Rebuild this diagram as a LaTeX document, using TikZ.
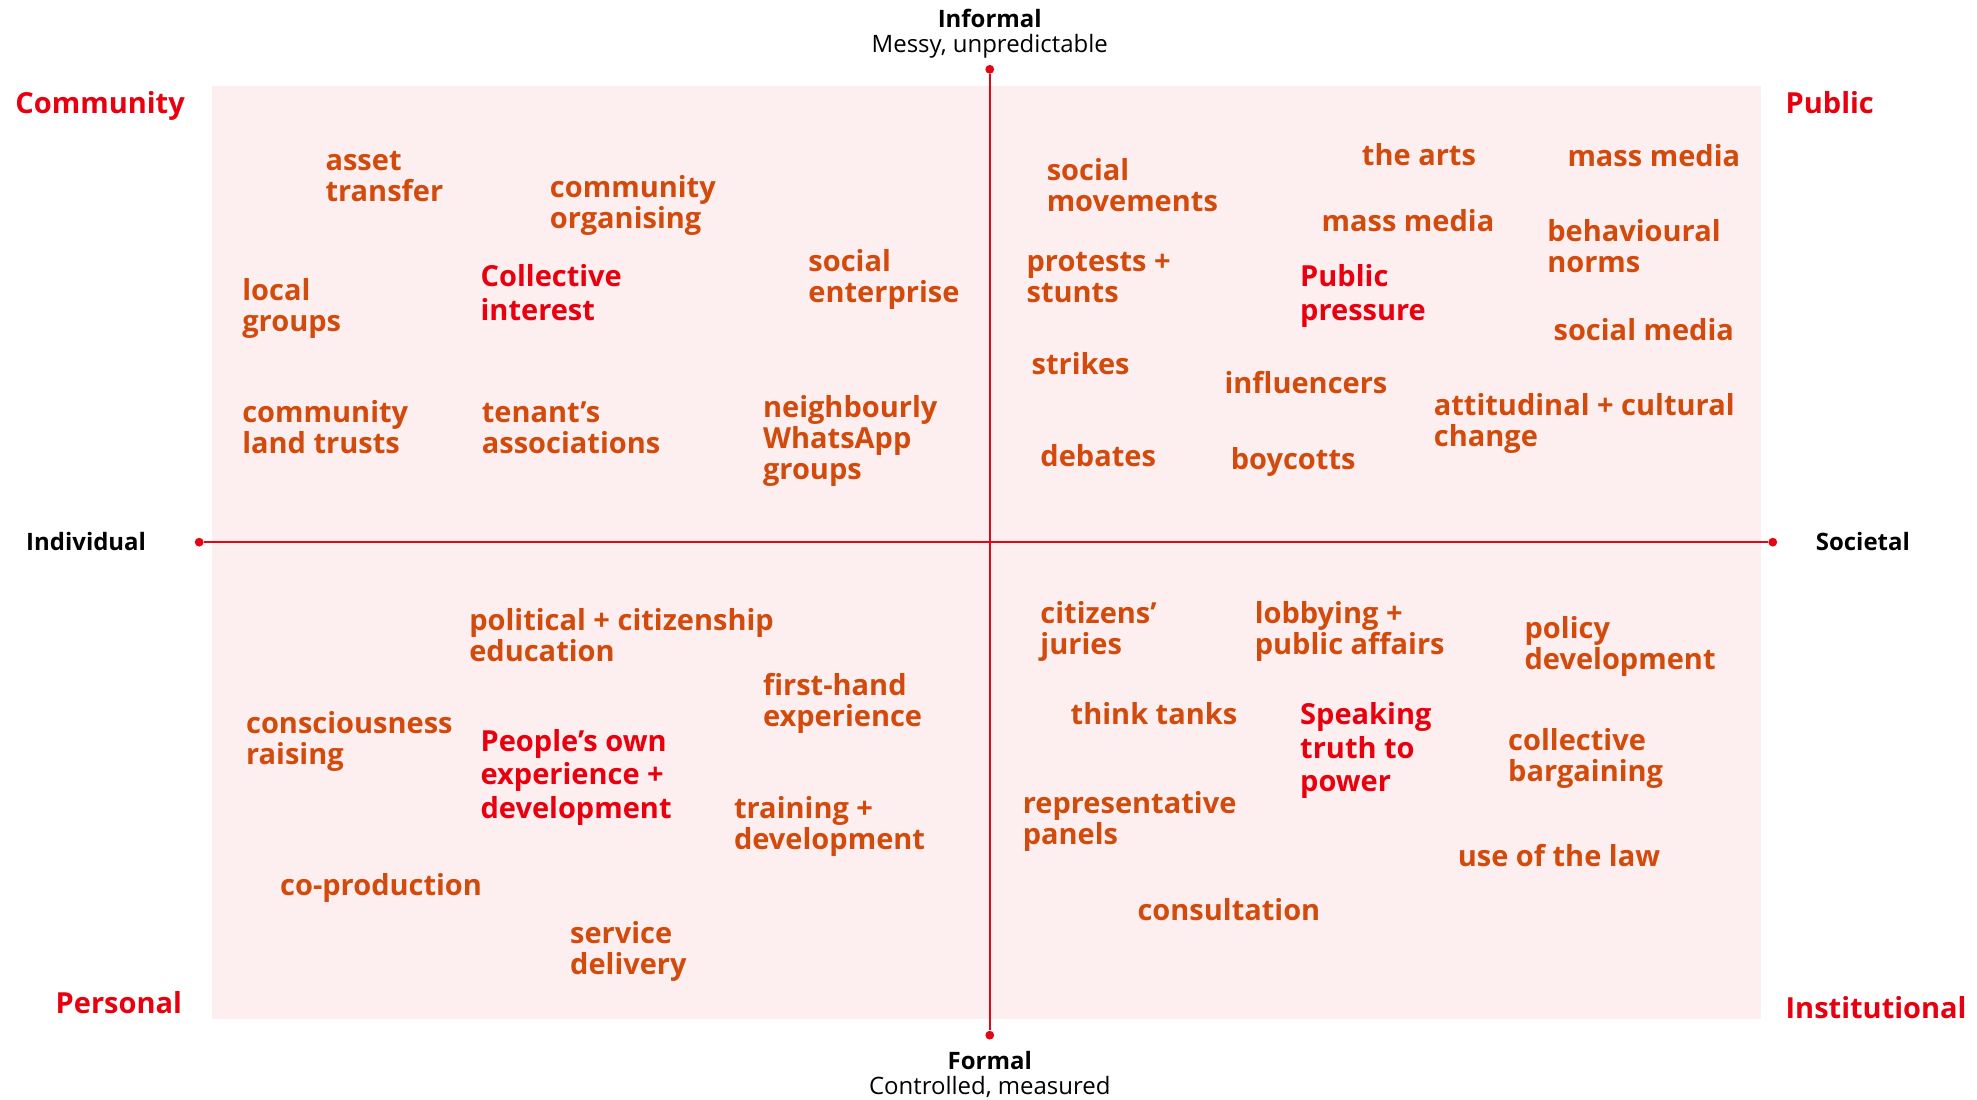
\documentclass[tikz,border=0pt]{standalone}
\usepackage{fontspec}
\setmainfont{Open Sans}
\usepackage{tikz}

\definecolor{itemorange}{HTML}{D24A0C}
\definecolor{keyred}{HTML}{E8000F}
\definecolor{axisred}{HTML}{E30613}
\definecolor{bgpink}{HTML}{FDEFF0}

\begin{document}
\begin{tikzpicture}[x=1pt, y=-1pt,
    item/.style={anchor=base west, inner sep=0pt, align=left, text=itemorange,
      font=\fontsize{23}{24.6}\selectfont\bfseries},
    key/.style={item, text=keyred, font=\fontsize{23}{26.5}\selectfont\bfseries},
    corner/.style={anchor=base west, inner sep=0pt, text=keyred,
      font=\fontsize{23}{26}\selectfont\bfseries},
    axislabel/.style={inner sep=0pt, font=\fontsize{19}{21}\selectfont\bfseries},
    subtitle/.style={inner sep=0pt, font=\fontsize{19}{21}\selectfont},
    enddot/.style={circle, fill=axisred, inner sep=0pt, minimum size=7pt},
    axis/.style={axisred, line width=2pt}]
      \useasboundingbox (0, 0) rectangle (1568, 872);
      \fill[bgpink] (168, 68) rectangle (1397, 808);

      % axes
      \node[enddot] (leftend) at (158, 430) {};
      \node[enddot] (rightend) at (1406, 430) {};
      \node[enddot] (topend) at (785, 55) {};
      \node[enddot] (bottomend) at (785, 821) {};
      \draw[axis] (leftend) -- (rightend);
      \draw[axis] (topend) -- (bottomend);

      \node[axislabel, anchor=base] (informal) at (785, 22) {Informal};
      \node[subtitle, anchor=base] (messy) at (785, 42) {Messy, unpredictable};
      \node[axislabel, anchor=base] (formal) at (785, 848) {Formal};
      \node[subtitle, anchor=base] (controlled) at (785, 868) {Controlled, measured};
      \node[axislabel, anchor=base east] (individual) at (116, 437) {Individual};
      \node[axislabel, anchor=base west] (societal) at (1440, 437) {Societal};

      % corners
      \node[corner] (community) at (12, 90) {Community};
      \node[corner] (public) at (1416, 90) {Public};
      \node[corner] (personal) at (44, 804) {Personal};
      \node[corner] (institutional) at (1416, 808) {Institutional};

      % top left (y = baseline of last line)
      \node[item] (asset) at (258, 160) {asset\\transfer};
      \node[item] (commorg) at (436, 181) {community\\organising};
      \node[item] (localgroups) at (192, 263) {local\\groups};
      \node[key] (collective) at (381, 254) {Collective\\interest};
      \node[item] (socent) at (641, 240) {social\\enterprise};
      \node[item] (landtrusts) at (192, 360) {community\\land trusts};
      \node[item] (tenants) at (382, 360) {tenant’s\\associations};
      \node[item] (whatsapp) at (605, 380) {neighbourly\\WhatsApp\\groups};

      % top right
      \node[item] (socmov) at (830, 168) {social\\movements};
      \node[item] (arts) at (1080, 131) {the arts};
      \node[item] (massmediaa) at (1243, 132) {mass media};
      \node[item] (massmediab) at (1048, 184) {mass media};
      \node[item] (norms) at (1227, 216) {behavioural\\norms};
      \node[item] (protests) at (814, 240) {protests +\\stunts};
      \node[key] (pubpressure) at (1031, 254) {Public\\pressure};
      \node[item] (socmedia) at (1232, 270) {social media};
      \node[item] (strikes) at (818, 297) {strikes};
      \node[item] (influencers) at (971, 312) {influencers};
      \node[item] (attitudinal) at (1137, 354) {attitudinal + cultural\\change};
      \node[item] (debates) at (825, 370) {debates};
      \node[item] (boycotts) at (976, 372) {boycotts};

      % bottom left
      \node[item] (political) at (372, 525) {political + citizenship\\education};
      \node[item] (firsthand) at (605, 576) {first-hand\\experience};
      \node[item] (consciousness) at (195, 606) {consciousness\\raising};
      \node[key] (ownexp) at (381, 649) {People’s own\\experience +\\development};
      \node[item] (training) at (582, 674) {training +\\development};
      \node[item] (coprod) at (222, 710) {co-production};
      \node[item] (service) at (452, 773) {service\\delivery};

      % bottom right
      \node[item] (juries) at (825, 519) {citizens’\\juries};
      \node[item] (lobbying) at (995, 519) {lobbying +\\public affairs};
      \node[item] (policy) at (1209, 531) {policy\\development};
      \node[item] (thinktanks) at (849, 575) {think tanks};
      \node[key] (speaking) at (1031, 628) {Speaking\\truth to\\power};
      \node[item] (bargaining) at (1196, 620) {collective\\bargaining};
      \node[item] (panels) at (811, 670) {representative\\panels};
      \node[item] (law) at (1156, 687) {use of the law};
      \node[item] (consultation) at (902, 730) {consultation};
  \end{tikzpicture}
\end{document}
